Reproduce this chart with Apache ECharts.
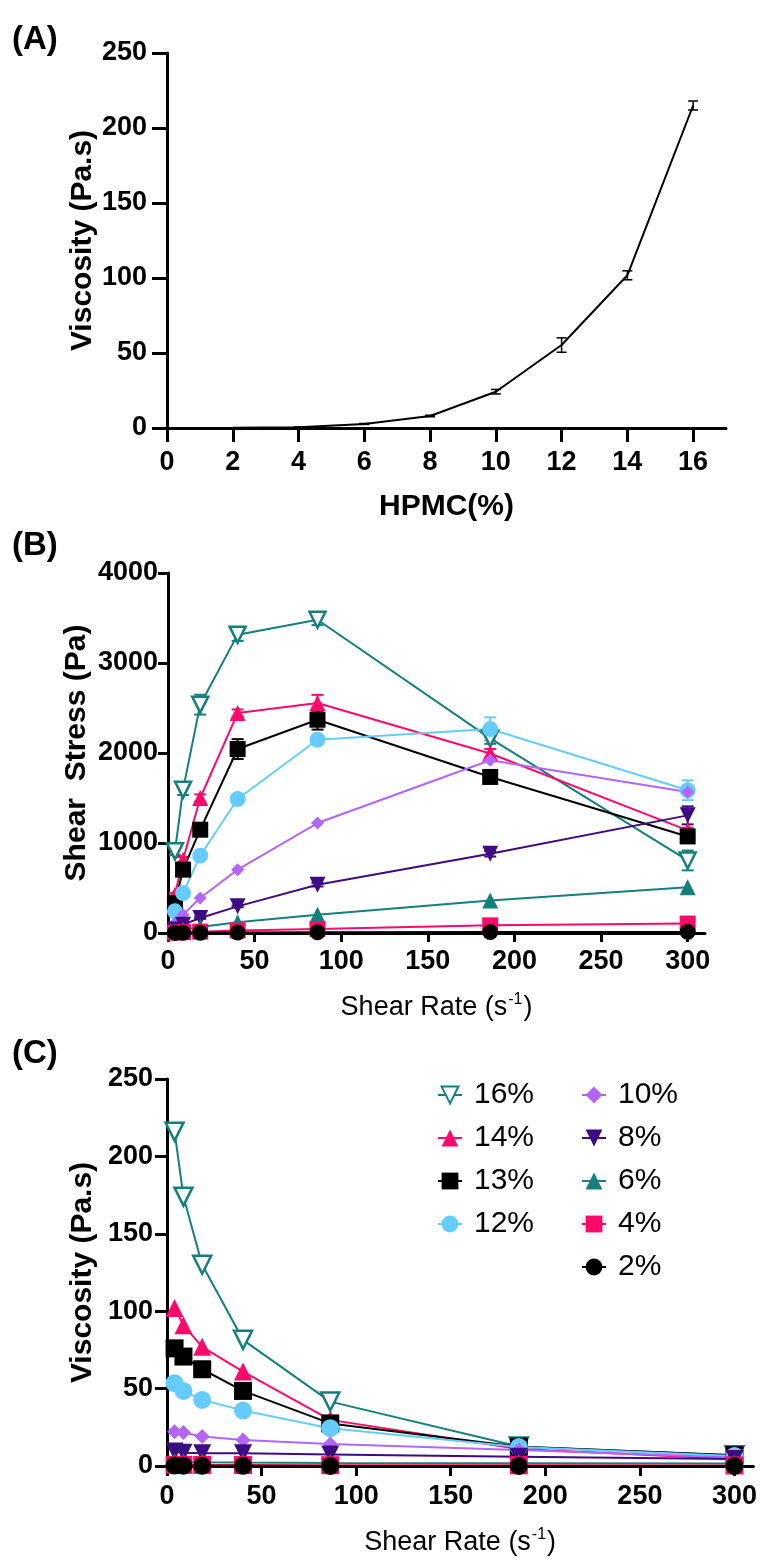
<!DOCTYPE html>
<html>
<head>
<meta charset="utf-8">
<script src="https://cdn.jsdelivr.net/npm/echarts@6/dist/echarts.min.js"></script>
<style>
  html, body { margin: 0; padding: 0; background: #fff; }
  #chart { width: 760px; height: 1560px; }
</style>
</head>
<body>
<div id="chart"></div>
<script>
// ---- data ----
// (A) viscosity vs HPMC concentration
const hpmc = [2, 4, 6, 8, 10, 12, 14, 16];
const hpmcVisc = [0.1, 0.5, 2.7, 8, 24.2, 55.3, 101.8, 215];
const hpmcErr = [0, 0, 0.3, 0.5, 1.5, 4.8, 3, 3];
const hpmcTicks = [0, 2, 4, 6, 8, 10, 12, 14, 16];

// (B) / (C) shared shear rates
const shearRate = [4, 8.7, 18.6, 40.2, 86.3, 186, 300];
const rateTicks = [0, 50, 100, 150, 200, 250, 300];
const concLabels = ['16%', '14%', '13%', '12%', '10%', '8%', '6%', '4%', '2%'];

// (B) shear stress (Pa)
const stress16 = [907, 1593, 2537, 3315, 3481, 2162, 806];
const stress14 = [426, 815, 1500, 2444, 2556, 1994, 1140];
const stress13 = [333, 704, 1148, 2044, 2370, 1734, 1073];
const stress12 = [241, 444, 859, 1489, 2148, 2266, 1586];
const stress10 = [110, 204, 389, 704, 1222, 1920, 1567];
const stress8 = [40, 93, 167, 296, 537, 880, 1307];
const stress6 = [18, 37, 67, 119, 204, 360, 509];
const stress4 = [5, 9, 15, 28, 45, 85, 105];
const stress2 = [1, 2, 3, 5, 8, 10, 12];

// (B) error (+/-)
const stressErr16 = [40, 60, 110, 70, 60, 60, 110];
const stressErr14 = [20, 30, 40, 40, 90, 50, 30];
const stressErr13 = [20, 30, 40, 110, 110, 50, 70];
const stressErr12 = [10, 20, 30, 40, 40, 130, 110];
const stressErr8 = [5, 5, 10, 10, 20, 30, 100];

// (C) viscosity (Pa.s)
const visc16 = [216, 174, 130, 81.5, 41.6, 12.6, 7];
const visc14 = [102, 91, 77, 61, 29.8, 11, 4.5];
const visc13 = [76, 70.7, 62.5, 48.5, 27.5, 12.5, 7];
const visc12 = [53.5, 48.5, 42.7, 35.8, 24.4, 12.2, 6.5];
const visc10 = [22.2, 21.6, 19, 16.8, 14.2, 10.4, 5.5];
const visc8 = [9.3, 8.6, 8.2, 8.2, 7.5, 6, 4.5];
const visc6 = [2.6, 2.5, 2.4, 2.2, 2.0, 1.8, 1.6];
const visc4 = [0.8, 0.7, 0.7, 0.6, 0.5, 0.45, 0.35];
const visc2 = [0.25, 0.2, 0.15, 0.12, 0.08, 0.05, 0.04];

const stressSets = [stress16, stress14, stress13, stress12, stress10, stress8, stress6, stress4, stress2];
const stressErrs = [stressErr16, stressErr14, stressErr13, stressErr12, null, stressErr8, null, null, null];
const viscSets = [visc16, visc14, visc13, visc12, visc10, visc8, visc6, visc4, visc2];

// ---- styles ----
const FONT = '"Liberation Sans", Arial, Helvetica, sans-serif';
const teal = '#14807b';
const pink = '#ff0a6a';
const looks = [
  { color: teal, symbol: 'triangle', rotate: 180, hollow: true },
  { color: pink, symbol: 'triangle', rotate: 0 },
  { color: '#000000', symbol: 'rect', rotate: 0 },
  { color: '#66ccff', symbol: 'circle', rotate: 0 },
  { color: '#b266ff', symbol: 'diamond', rotate: 0, small: true },
  { color: '#3d0b82', symbol: 'triangle', rotate: 180 },
  { color: teal, symbol: 'triangle', rotate: 0 },
  { color: pink, symbol: 'rect', rotate: 0 },
  { color: '#000000', symbol: 'circle', rotate: 0 }
];

const chart = echarts.init(document.getElementById('chart'), null, { renderer: 'canvas' });

const tickLabel = { fontFamily: FONT, fontWeight: 'bold', fontSize: 27, color: '#000', formatter: v => String(v) };
const axisLine = { show: true, onZero: true, lineStyle: { color: '#000', width: 3 } };

function xAxisFor(grid, max, ticks, tickLen, margin, name, gap) {
  return {
    type: 'value', gridIndex: grid, min: 0, max: max,
    axisLine: axisLine,
    axisTick: { show: true, length: tickLen, lineStyle: { width: 3, color: '#000' }, customValues: ticks },
    axisLabel: Object.assign({ margin: margin, customValues: ticks }, tickLabel),
    splitLine: { show: false },
    name: name, nameLocation: 'middle', nameGap: gap, nameMoveOverlap: false
  };
}

function yAxisFor(grid, max, interval, tickLen, margin, name, gap) {
  return {
    type: 'value', gridIndex: grid, min: 0, max: max, interval: interval,
    axisLine: axisLine,
    axisTick: { show: true, length: tickLen, lineStyle: { width: 3, color: '#000' } },
    axisLabel: Object.assign({ margin: margin }, tickLabel),
    splitLine: { show: false },
    name: name, nameLocation: 'middle', nameGap: gap, nameRotate: 90, nameMoveOverlap: false,
    nameTextStyle: { fontFamily: FONT, fontWeight: 'bold', fontSize: 30, color: '#000' }
  };
}

function errorBars(axisIdx, xs, ys, errs, color, capW, width) {
  return {
    type: 'custom', xAxisIndex: axisIdx, yAxisIndex: axisIdx, z: 1, silent: true,
    data: xs.map((x, i) => [x, ys[i] - errs[i], ys[i] + errs[i]]),
    encode: { x: 0, y: [1, 2] },
    renderItem: (params, api) => {
      const lo = api.coord([api.value(0), api.value(1)]);
      const hi = api.coord([api.value(0), api.value(2)]);
      const st = { stroke: color, lineWidth: width };
      return {
        type: 'group', children: [
          { type: 'line', shape: { x1: lo[0], y1: lo[1], x2: hi[0], y2: hi[1] }, style: st },
          { type: 'line', shape: { x1: lo[0] - capW, y1: lo[1], x2: lo[0] + capW, y2: lo[1] }, style: st },
          { type: 'line', shape: { x1: hi[0] - capW, y1: hi[1], x2: hi[0] + capW, y2: hi[1] }, style: st }
        ]
      };
    }
  };
}

function concSeries(axisIdx, ys, k, size) {
  const lk = looks[k];
  return {
    type: 'line', name: concLabels[k], xAxisIndex: axisIdx, yAxisIndex: axisIdx, z: 2,
    data: shearRate.map((x, i) => [x, ys[i]]),
    symbol: lk.symbol, symbolRotate: lk.rotate,
    symbolSize: lk.small ? size - 3 : size,
    lineStyle: { color: lk.color, width: 2 },
    itemStyle: lk.hollow
      ? { color: '#ffffff', borderColor: lk.color, borderWidth: 2.5 }
      : { color: lk.color, borderWidth: 0 },
    emphasis: { disabled: true }
  };
}

const series = [];
// (A)
series.push(errorBars(0, hpmc, hpmcVisc, hpmcErr, '#000', 5, 1.5));
series.push({
  type: 'line', xAxisIndex: 0, yAxisIndex: 0, z: 2,
  data: hpmc.map((x, i) => [x, hpmcVisc[i]]),
  symbol: 'none', lineStyle: { color: '#000', width: 2 }
});
// (B)
stressSets.forEach((ys, k) => {
  if (stressErrs[k]) series.push(errorBars(1, shearRate, ys, stressErrs[k], looks[k].color, 6, 2));
});
stressSets.forEach((ys, k) => series.push(concSeries(1, ys, k, 16)));
// (C)
viscSets.forEach((ys, k) => series.push(concSeries(2, ys, k, 18)));

const legendBase = {
  orient: 'vertical', padding: 0, itemWidth: 24, itemHeight: 21, itemGap: 13,
  textStyle: { fontFamily: FONT, fontSize: 30, color: '#000', lineHeight: 30, padding: [0, 0, 0, 7] },
  selectedMode: false
};

const supName = '{t|Shear Rate (s}{sup|-1}{t|)}';
const supStyle = {
  rich: {
    t: { fontFamily: FONT, fontSize: 27, color: '#000' },
    sup: { fontFamily: FONT, fontSize: 16, color: '#000', padding: [0, 1, 16, 1] }
  }
};

const xA = xAxisFor(0, 17, hpmcTicks, 14, 21, 'HPMC(%)', 64);
xA.nameTextStyle = { fontFamily: FONT, fontWeight: 'bold', fontSize: 30, color: '#000' };
const xB = xAxisFor(1, 310, rateTicks, 9, 15, supName, 59);
xB.nameTextStyle = supStyle;
const xC = xAxisFor(2, 310, rateTicks, 10, 17, supName, 61);
xC.nameTextStyle = supStyle;

chart.setOption({
  animation: false,
  backgroundColor: '#fff',
  grid: [
    { left: 167, top: 53, width: 559, height: 375 },
    { left: 168, top: 573, width: 537, height: 360 },
    { left: 167, top: 1079, width: 589, height: 387 }
  ],
  xAxis: [xA, xB, xC],
  yAxis: [
    yAxisFor(0, 250, 50, 15, 20, 'Viscosity (Pa.s)', 69),
    yAxisFor(1, 4000, 1000, 10, 10, 'Shear  Stress (Pa)', 76),
    yAxisFor(2, 250, 50, 12, 14, 'Viscosity (Pa.s)', 69)
  ],
  legend: [
    Object.assign({ left: 437, top: 1080, data: concLabels.slice(0, 4) }, legendBase),
    Object.assign({ left: 581, top: 1080, data: concLabels.slice(4) }, legendBase)
  ],
  graphic: [
    { type: 'text', left: 12, top: 23, style: { text: '(A)', font: 'bold 33px ' + FONT, fill: '#000' } },
    { type: 'text', left: 12, top: 529, style: { text: '(B)', font: 'bold 33px ' + FONT, fill: '#000' } },
    { type: 'text', left: 12, top: 1037, style: { text: '(C)', font: 'bold 33px ' + FONT, fill: '#000' } }
  ],
  series: series
});
</script>
</body>
</html>
